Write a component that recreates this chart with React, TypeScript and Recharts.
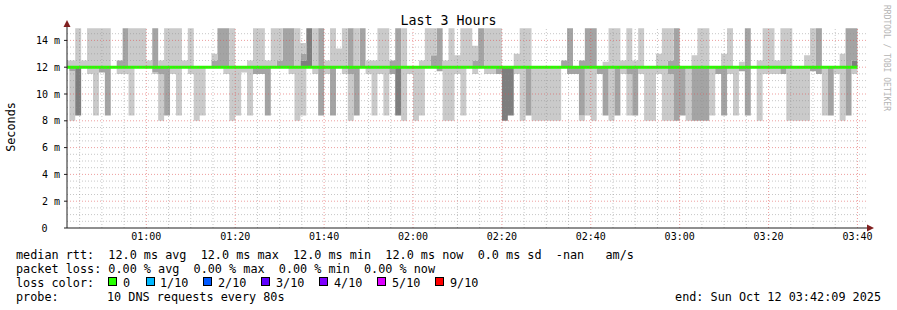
import React from 'react';
import { ComposedChart, Area, Line, XAxis, YAxis, ReferenceLine } from 'recharts';

const MONO = "'DejaVu Sans Mono', monospace";

// graph window in minutes after midnight: 00:42:09 .. 03:42:09
const START = 42.15;
const END = 222.15;
// rrd steps are 80 s, aligned on 00:41:20
const FIRST_STEP = 41 + 20 / 60;
const STEP = 80 / 60;
const LAST_STEP_END = 220; // 03:40:00

// sorted pings per step (ms): p1, p2, p3 ... p8, p9, p10
const minRtt = [
  12, 8.0, 8.4, 12, 11.5, 8.4, 11.6, 8.4, 12, 11.5,
  11.5, 8.4, 12, 12, 12, 11.5, 8.0, 8.4, 11.5, 8.4,
  12, 11.5, 8.0, 8.4, 12, 12, 12, 11.5, 8.0, 8.4,
  11.6, 8.4, 11.5, 11.5, 8.4, 12, 12, 12, 11.5, 8.0,
  8.4, 12, 11.5, 8.4, 11.5, 8.4, 12, 11.5, 8.0, 8.4,
  12, 11.5, 8.4, 11.5, 8.4, 11.5, 8.4, 8.0, 11.5, 8.0,
  8.4, 12, 12, 11.7, 8.0, 8.0, 11.5, 8.4, 12, 11.5,
  12, 11.5, 11.5, 11.5, 8.0, 8.4, 11.5, 8.0, 8.4, 8.0,
  8.0, 8.0, 8.0, 8.0, 12, 11.5, 11.5, 8.0, 8.4, 8.0,
  11.5, 8.4, 8.0, 8.4, 11.5, 8.4, 8.4, 11.5, 8.0, 8.0,
  11.5, 8.0, 8.0, 8.0, 8.4, 8.0, 8.0, 8.0, 8.0, 8.4,
  11.5, 8.4, 11.5, 8.4, 11.7, 8.4, 12, 8.0, 11.5, 11.5,
  11.5, 11.5, 8.0, 8.0, 8.0, 8.0, 11.7, 11.5, 8.4, 8.4,
  11.5, 8.0, 8.4, 11.5,
];

const ping2 = [
  12, 11.7, 8.4, 12, 12, 12, 11.6, 8.4, 12, 12,
  12, 12, 12, 12, 12, 11.6, 11.5, 8.4, 12, 12,
  12, 12, 12, 12, 12, 12, 12, 12, 12, 12,
  12, 12, 11.5, 11.5, 8.4, 12, 12, 12, 12, 12,
  12, 12, 12, 8.4, 12, 8.4, 12, 12, 11.5, 8.4,
  12, 12, 12, 12, 12, 11.5, 8.4, 12, 12, 12,
  12, 12, 12, 11.7, 12, 12, 12, 12, 12, 12,
  12, 12, 12, 11.5, 8.0, 8.4, 12, 12, 8.4, 12,
  12, 12, 12, 12, 12, 11.5, 11.5, 8.4, 12, 12,
  11.5, 8.4, 12, 8.4, 12, 11.5, 8.4, 12, 12, 12,
  12, 12, 11.5, 8.0, 8.4, 12, 8.0, 8.0, 8.0, 12,
  11.5, 8.4, 12, 12, 11.7, 8.4, 12, 12, 12, 12,
  12, 11.5, 12, 12, 12, 12, 11.7, 11.5, 12, 8.4,
  12, 12, 8.4, 12,
];

const ping3 = [
  12, 12, 8.4, 12, 12, 12, 12, 12, 12, 12,
  12, 12, 12, 12, 12, 12, 12, 12, 12, 12,
  12, 12, 12, 12, 12, 12, 12, 12, 12, 12,
  12, 12, 12, 12, 12, 12, 12, 12, 12, 12,
  12, 12, 12, 12, 12, 12, 12, 12, 12, 12,
  12, 12, 12, 12, 12, 12, 8.4, 12, 12, 12,
  12, 12, 12, 12, 12, 12, 12, 12, 12, 12,
  12, 12, 12, 12, 8.0, 8.4, 12, 12, 12, 12,
  12, 12, 12, 12, 12, 12, 12, 12, 12, 12,
  12, 12, 12, 12, 12, 12, 12, 12, 12, 12,
  12, 12, 12, 12, 12, 12, 12, 12, 12, 12,
  12, 12, 12, 12, 12, 12, 12, 12, 12, 12,
  12, 12, 12, 12, 12, 12, 12, 12, 12, 12,
  12, 12, 12, 12,
];

const ping8 = [
  12, 12, 12, 12, 12, 12, 12, 12, 12, 12,
  12, 12, 12, 12, 12, 12, 12, 12, 12, 12,
  12, 12, 12, 12, 12, 12, 12, 12, 12, 12,
  12, 12, 12, 12, 12, 12, 12, 12, 12, 12,
  12.5, 14.9, 12, 12, 12, 12, 12, 12, 12, 12,
  12, 12, 12, 12, 12, 12, 12, 12, 12, 12,
  12, 12, 12, 12, 12, 12, 12, 12, 12, 12,
  12, 12, 12, 12, 12, 12, 12, 12, 12, 12,
  12, 12, 12, 12, 12, 12, 12, 12, 12, 12,
  12, 12, 12, 12, 12, 12, 12, 12, 12, 12,
  12, 12, 12, 12, 12, 12, 12, 12, 12, 12,
  12, 12, 12, 12, 12, 12, 12, 12, 12, 12,
  12, 12, 12, 12, 12, 12, 12, 12, 12, 12,
  12, 12, 12, 12.5,
];

const ping9 = [
  12, 12, 12, 12, 12, 12, 12, 12, 12, 12.5,
  14.9, 12, 12, 12, 12, 14.9, 12, 12, 12, 12,
  12, 12, 12, 12, 12, 12.5, 14.9, 14.9, 12, 12,
  12, 12, 12, 12, 12, 12, 12.5, 14.9, 14.9, 12,
  13, 14.9, 12, 14.9, 12, 12, 12, 12, 14.9, 12,
  14.9, 12, 12, 12, 12, 12.5, 14.9, 12, 12, 12,
  12, 12, 12.9, 14.9, 12, 12, 12, 12, 12, 12.5,
  14.9, 12, 12, 12, 12, 12, 12, 12, 12, 12,
  12, 12, 12, 12, 12.5, 14.9, 12, 12.5, 14.9, 14.9,
  12, 12, 12, 12, 12, 12, 12, 12, 12, 12,
  12, 12, 12.5, 14.9, 12, 12, 12, 12, 12, 12,
  12, 12, 12, 12, 12, 14.9, 12, 12, 12, 12,
  12, 12, 12, 12, 12, 12, 12, 14.9, 12, 12,
  12, 12, 14.9, 14.9,
];

const maxRtt = [
  12.5, 12.5, 14.9, 12.5, 14.9, 14.9, 14.9, 14.9, 12, 12.5,
  14.9, 14.9, 14.9, 14.9, 12.5, 14.9, 12.5, 14.9, 14.9, 14.9,
  12.5, 14.9, 12, 12, 12, 13, 14.9, 14.9, 14.9, 12,
  12, 12.5, 14.9, 14.9, 12.5, 14.9, 14.9, 14.9, 14.9, 14.9,
  13.8, 14.9, 14.9, 14.9, 12.5, 14.9, 13.4, 14.9, 14.9, 14.9,
  14.9, 12.5, 12.5, 14.9, 14.9, 12.5, 14.9, 14.9, 12, 12,
  12.5, 14.9, 14.9, 14.9, 12.5, 14.9, 12.9, 14.9, 14.9, 13.6,
  14.9, 14.9, 14.9, 14.9, 12, 12, 13, 14.9, 14.9, 12,
  12, 12, 12, 12, 12.5, 14.9, 12, 12.5, 14.9, 14.9,
  12, 12.4, 14.9, 14.9, 12.5, 14.9, 12.5, 14.9, 12, 12,
  13, 14.9, 14.9, 14.9, 12, 12, 12.9, 14.9, 14.9, 12,
  12, 13, 14.9, 12, 12.4, 14.9, 12, 12.5, 14.9, 14.9,
  12.5, 14.9, 14.9, 12, 12, 12.9, 14.9, 14.9, 12, 12,
  12, 13, 14.9, 14.9,
];

const medianRtt = [
  12, 12, 12, 12, 12, 12, 12, 12, 12, 12,
  12, 12, 12, 12, 12, 12, 12, 12, 12, 12,
  12, 12, 12, 12, 12, 12, 12, 12, 12, 12,
  12, 12, 12, 12, 12, 12, 12, 12, 12, 12,
  12, 12, 12, 12, 12, 12, 12, 12, 12, 12,
  12, 12, 12, 12, 12, 12, 12, 12, 12, 12,
  12, 12, 12, 12, 12, 12, 12, 12, 12, 12,
  12, 12, 12, 12, 12, 12, 12, 12, 12, 12,
  12, 12, 12, 12, 12, 12, 12, 12, 12, 12,
  12, 12, 12, 12, 12, 12, 12, 12, 12, 12,
  12, 12, 12, 12, 12, 12, 12, 12, 12, 12,
  12, 12, 12, 12, 12, 12, 12, 12, 12, 12,
  12, 12, 12, 12, 12, 12, 12, 12, 12, 12,
  12, 12, 12, 12,
];

const yTicks = [0, 2, 4, 6, 8, 10, 12, 14];
const xTicks = [60, 80, 100, 120, 140, 160, 180, 200, 220];

const lossLabels = ['0', '1/10', '2/10', '3/10', '4/10', '5/10', '9/10'];
const lossColors = ['#26ff00', '#00b8ff', '#0059ff', '#5e00ff', '#7e00ff', '#dd00ff', '#ff0000'];
const lossBoxX = [108, 146, 203, 261, 319, 377, 435];
const lossTextX = [123, 160, 218, 276, 334, 392, 450];

// grid (rrdtool: minor every 0.5 ms / 5 min, major every 2 ms / 20 min)
const minorY: number[] = [];
for (let v = 0.5; v < 15; v += 0.5) if (v % 2 !== 0) minorY.push(v);
const majorY = yTicks.filter((v) => v > 0);
const minorX: number[] = [];
for (let m = 45; m < END; m += 5) if (m % 20 !== 0) minorX.push(m);
const majorX = xTicks;

const stepStart = minRtt.map((_, i) => Math.max(START, FIRST_STEP + i * STEP));

const rows = stepStart.map((t, i) => ({
  t,
  base: minRtt[i],
  s1: ping2[i] - minRtt[i],
  s2: ping3[i] - ping2[i],
  s3: ping8[i] - ping3[i],
  s4: ping9[i] - ping8[i],
  s5: maxRtt[i] - ping9[i],
  median: medianRtt[i],
}));
rows.push({ ...rows[rows.length - 1], t: LAST_STEP_END });

const pad = (n: number) => String(n).padStart(2, '0');
const fmtTime = (m: number) => `${pad(Math.floor(m / 60))}:${pad(m % 60)}`;

const YTick = (props: any) => {
  const { x, y, payload } = props;
  const v = payload.value;
  return (
    <text
      x={v === 0 ? x - 12.4 : x}
      y={y}
      dy="0.355em"
      textAnchor="end"
      fontFamily={MONO}
      fontSize={10}
      fill="#000"
    >
      {v === 0 ? '0' : `${v} m`}
    </text>
  );
};

const LIGHT = '#cacaca';
const MID = '#a4a4a4';
const DARK = '#7e7e7e';

export default function App() {
  const legendStyle = { fontFamily: MONO, fontSize: 11.8, fill: '#000' };
  return (
    <div style={{ position: 'absolute', left: 0, top: 0, width: 897, height: 310, background: '#fff' }}>
      <ComposedChart
        width={897}
        height={310}
        data={rows}
        margin={{ top: 27, right: 30, bottom: 52, left: 7 }}
      >
        <XAxis
          dataKey="t"
          type="number"
          domain={[START, END]}
          allowDataOverflow
          ticks={xTicks}
          tickFormatter={fmtTime}
          tickLine={false}
          tickSize={0}
          tickMargin={5}
          height={30}
          axisLine={{ stroke: '#1f1f1f' }}
          tick={{ fontFamily: MONO, fontSize: 10, fill: '#000' }}
        />
        <YAxis
          type="number"
          domain={[0, 15]}
          allowDataOverflow
          ticks={yTicks}
          width={60}
          tickSize={3}
          tickMargin={4}
          axisLine={{ stroke: '#1f1f1f' }}
          tickLine={{ stroke: '#1f1f1f' }}
          tick={<YTick />}
        />
        <Area dataKey="base" stackId="smoke" type="stepAfter" stroke="none" fill="none" isAnimationActive={false} />
        <Area dataKey="s1" stackId="smoke" type="stepAfter" stroke="none" fill={LIGHT} fillOpacity={1} isAnimationActive={false} />
        <Area dataKey="s2" stackId="smoke" type="stepAfter" stroke="none" fill={MID} fillOpacity={1} isAnimationActive={false} />
        <Area dataKey="s3" stackId="smoke" type="stepAfter" stroke="none" fill={DARK} fillOpacity={1} isAnimationActive={false} />
        <Area dataKey="s4" stackId="smoke" type="stepAfter" stroke="none" fill={MID} fillOpacity={1} isAnimationActive={false} />
        <Area dataKey="s5" stackId="smoke" type="stepAfter" stroke="none" fill={LIGHT} fillOpacity={1} isAnimationActive={false} />
        <Line dataKey="median" type="stepAfter" stroke="#26ff00" strokeWidth={3} dot={false} activeDot={false} isAnimationActive={false} />
        {minorY.map((v) => (
          <ReferenceLine key={`my${v}`} y={v} stroke="#8f8f8f" strokeOpacity={0.5} strokeDasharray="1 2" />
        ))}
        {minorX.map((v) => (
          <ReferenceLine key={`mx${v}`} x={v} stroke="#8f8f8f" strokeOpacity={0.5} strokeDasharray="1 2" />
        ))}
        {majorY.map((v) => (
          <ReferenceLine key={`My${v}`} y={v} stroke="#de4f4f" strokeOpacity={0.55} strokeDasharray="1 2" />
        ))}
        {majorX.map((v) => (
          <ReferenceLine key={`Mx${v}`} x={v} stroke="#de4f4f" strokeOpacity={0.55} strokeDasharray="1 2" />
        ))}
      </ComposedChart>

      <svg
        width={897}
        height={310}
        style={{ position: 'absolute', left: 0, top: 0, pointerEvents: 'none' }}
      >
        <polygon points="63.5,27 70.5,27 67,20" fill="#801f1f" />
        <polygon points="867,224.5 867,231.5 874,228" fill="#801f1f" />

        <text x={448.5} y={24.5} textAnchor="middle" fontFamily={MONO} fontSize={13.3} fill="#000">
          Last 3 Hours
        </text>
        <text transform="translate(15,127) rotate(-90)" textAnchor="middle" fontFamily={MONO} fontSize={11.8} fill="#000">
          Seconds
        </text>
        <text transform="translate(884,5) rotate(90)" fontFamily={MONO} fontSize={8} fill="#b4b4b4">
          RRDTOOL / TOBI OETIKER
        </text>

        <text x={16} y={258.5} style={{ whiteSpace: 'pre' }} {...legendStyle}>
          {'median rtt:  12.0 ms avg  12.0 ms max  12.0 ms min  12.0 ms now  0.0 ms sd  -nan   am/s'}
        </text>
        <text x={16} y={272.5} style={{ whiteSpace: 'pre' }} {...legendStyle}>
          {'packet loss: 0.00 % avg  0.00 % max  0.00 % min  0.00 % now'}
        </text>
        <text x={16} y={286.5} {...legendStyle}>
          loss color:
        </text>
        {lossLabels.map((label, i) => (
          <g key={label}>
            <rect x={lossBoxX[i] + 0.5} y={277.5} width={8} height={8} fill={lossColors[i]} stroke="#000" strokeWidth={1} />
            <text x={lossTextX[i]} y={286.5} {...legendStyle}>
              {label}
            </text>
          </g>
        ))}
        <text x={16} y={300.5} {...legendStyle}>
          probe:
        </text>
        <text x={107} y={300.5} {...legendStyle}>
          10 DNS requests every 80s
        </text>
        <text x={881} y={300.5} textAnchor="end" {...legendStyle}>
          end: Sun Oct 12 03:42:09 2025
        </text>
      </svg>
    </div>
  );
}
